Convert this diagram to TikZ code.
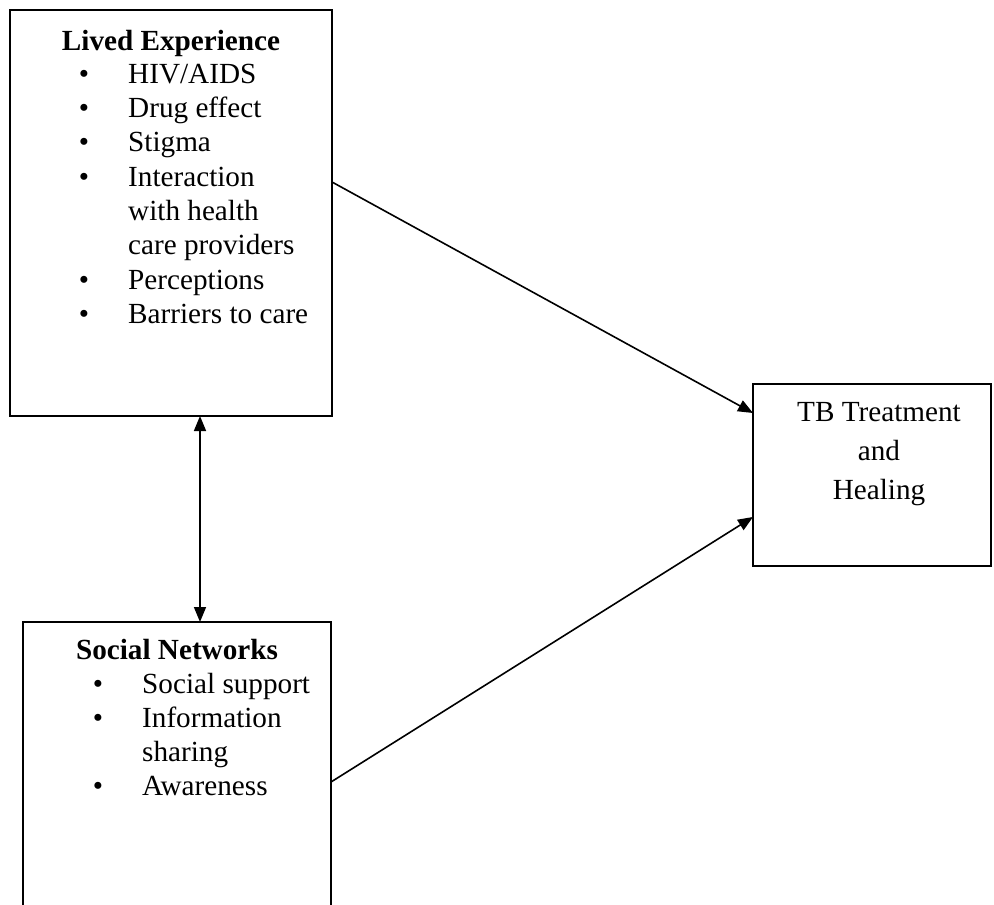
\documentclass[tikz,border=0pt]{standalone}
\usepackage{fontspec}
\setmainfont{Liberation Serif}
\usetikzlibrary{arrows.meta,calc}
\begin{document}
\begin{tikzpicture}[x=1pt,y=-1pt,
  box/.style={draw,line width=2.4pt,inner sep=0pt,outer sep=0pt,anchor=north west},
  txt/.style={inner sep=0pt,font=\fontsize{29.2}{33.6}\selectfont},
  ttl/.style={inner sep=0pt,font=\fontsize{29.2}{33.6}\selectfont\bfseries,anchor=mid},
  itm/.style={txt,anchor=mid west},
  bul/.style={txt,anchor=mid},
  ctr/.style={txt,anchor=mid},
  arr/.style={line width=1.6pt,-{Triangle[length=15pt,width=12pt]}},
  darr/.style={line width=1.6pt,{Triangle[length=15pt,width=12pt]}-{Triangle[length=15pt,width=12pt]}}]
\clip (0,0) rectangle (994,905);
\fill[white] (0,0) rectangle (994,905);
% boxes
\node[box,minimum width=322pt,minimum height=406pt] (le) at (10,10) {};
\node[box,minimum width=308pt,minimum height=330pt] (sn) at (23,622) {};
\node[box,minimum width=238pt,minimum height=182pt] (tb) at (753,384) {};
% Lived Experience text
\node[ttl] (leT) at (171,48) {Lived Experience};
\node[bul] (leb1) at (84,81) {•};
\node[itm] (lei1) at (128,81) {HIV/AIDS};
\node[bul] (leb2) at (84,115.3) {•};
\node[itm] (lei2) at (128,115.3) {Drug effect};
\node[bul] (leb3) at (84,149.6) {•};
\node[itm] (lei3) at (128,149.6) {Stigma};
\node[bul] (leb4) at (84,183.9) {•};
\node[itm] (lei4) at (128,183.9) {Interaction};
\node[itm] (lei5) at (128,218.2) {with health};
\node[itm] (lei6) at (128,252.5) {care providers};
\node[bul] (leb7) at (84,286.8) {•};
\node[itm] (lei7) at (128,286.8) {Perceptions};
\node[bul] (leb8) at (84,321.1) {•};
\node[itm] (lei8) at (128,321.1) {Barriers to care};
% Social Networks text
\node[ttl] (snT) at (177,657) {Social Networks};
\node[bul] (snb1) at (98,691) {•};
\node[itm] (sni1) at (142,691) {Social support};
\node[bul] (snb2) at (98,725) {•};
\node[itm] (sni2) at (142,725) {Information};
\node[itm] (sni3) at (142,759) {sharing};
\node[bul] (snb4) at (98,793) {•};
\node[itm] (sni4) at (142,793) {Awareness};
% TB text
\node[ctr] (tb1) at (879,419) {TB Treatment};
\node[ctr] (tb2) at (879,458) {and};
\node[ctr] (tb3) at (879,497) {Healing};
% connectors
\draw[arr] ($(le.north east)+(0,172)$) -- ($(tb.north west)+(0,29)$);
\draw[arr] ($(sn.north east)+(0,160)$) -- ($(tb.north west)+(0,133)$);
\draw[darr] ($(le.south)+(29,0)$) -- ($(sn.north)+(23,0)$);
\end{tikzpicture}
\end{document}
